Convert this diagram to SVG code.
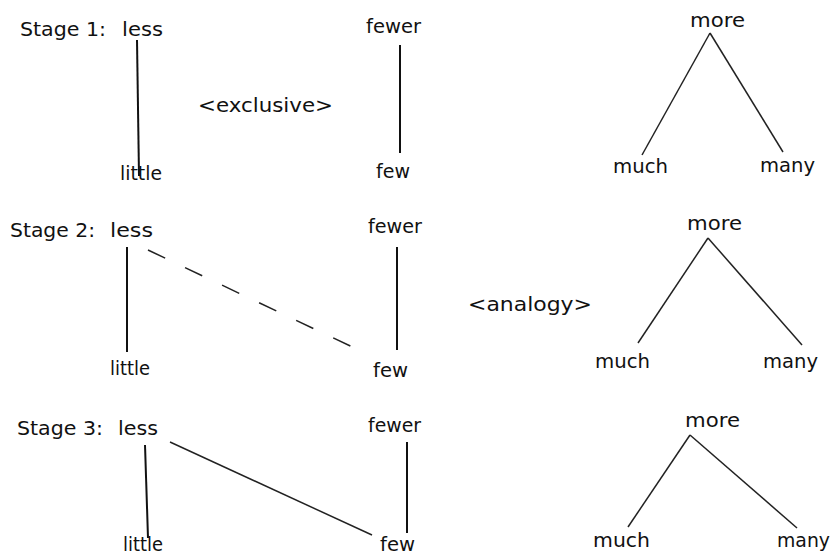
<svg xmlns="http://www.w3.org/2000/svg" width="833" height="556" viewBox="0 0 833 556">
  <style>
    text { font-family: "DejaVu Sans", "Liberation Sans", sans-serif; font-size: 19px; fill: #111; }
    .stem { stroke: #111; stroke-width: 2; fill: none; }
    .leg { stroke: #222; stroke-width: 1.5; fill: none; }
    .dash { stroke: #222; stroke-width: 1.5; fill: none; stroke-dasharray: 19 22; }
  </style>
  <rect width="833" height="556" fill="#fff"/>

  <!-- connectors -->
  <g id="connectors">
    <!-- stage 1 -->
    <line class="stem" x1="137" y1="40" x2="139" y2="176"/>
    <line class="stem" x1="400" y1="45" x2="400" y2="153"/>
    <line class="leg" x1="710" y1="33" x2="642" y2="155"/>
    <line class="leg" x1="710" y1="33" x2="783" y2="152"/>
    <!-- stage 2 -->
    <line class="stem" x1="127" y1="247" x2="127" y2="352"/>
    <line class="stem" x1="397" y1="247" x2="397" y2="350"/>
    <line class="dash" x1="148" y1="250" x2="365" y2="353"/>
    <line class="leg" x1="708" y1="238" x2="638" y2="343"/>
    <line class="leg" x1="708" y1="238" x2="802" y2="345"/>
    <!-- stage 3 -->
    <line class="stem" x1="145" y1="445" x2="148" y2="538"/>
    <line class="stem" x1="407" y1="442" x2="407" y2="533"/>
    <line class="leg" x1="170" y1="442" x2="372" y2="535"/>
    <line class="leg" x1="690" y1="435" x2="628" y2="527"/>
    <line class="leg" x1="690" y1="435" x2="797" y2="528"/>
  </g>

  <!-- stage 1 -->
  <g id="stage1-label"><text x="20" y="36" textLength="86" lengthAdjust="spacingAndGlyphs">Stage 1:</text></g>
  <g id="s1-less"><text x="122" y="36" textLength="41" lengthAdjust="spacingAndGlyphs">less</text></g>
  <g id="s1-little"><text x="120" y="180" textLength="42" lengthAdjust="spacingAndGlyphs">little</text></g>
  <g id="s1-fewer"><text x="366" y="33" textLength="55" lengthAdjust="spacingAndGlyphs">fewer</text></g>
  <g id="s1-few"><text x="376" y="178" textLength="34" lengthAdjust="spacingAndGlyphs">few</text></g>
  <g id="s1-more"><text x="690" y="27" textLength="55" lengthAdjust="spacingAndGlyphs">more</text></g>
  <g id="s1-much"><text x="613" y="173" textLength="55" lengthAdjust="spacingAndGlyphs">much</text></g>
  <g id="s1-many"><text x="760" y="172" textLength="55" lengthAdjust="spacingAndGlyphs">many</text></g>
  <g id="s1-exclusive"><text x="198" y="112" textLength="135" lengthAdjust="spacingAndGlyphs">&lt;exclusive&gt;</text></g>

  <!-- stage 2 -->
  <g id="stage2-label"><text x="10" y="237" textLength="85" lengthAdjust="spacingAndGlyphs">Stage 2:</text></g>
  <g id="s2-less"><text x="110" y="237" textLength="43" lengthAdjust="spacingAndGlyphs">less</text></g>
  <g id="s2-little"><text x="110" y="375" textLength="40" lengthAdjust="spacingAndGlyphs">little</text></g>
  <g id="s2-fewer"><text x="368" y="233" textLength="54" lengthAdjust="spacingAndGlyphs">fewer</text></g>
  <g id="s2-few"><text x="373" y="377" textLength="35" lengthAdjust="spacingAndGlyphs">few</text></g>
  <g id="s2-more"><text x="687" y="230" textLength="55" lengthAdjust="spacingAndGlyphs">more</text></g>
  <g id="s2-much"><text x="595" y="368" textLength="55" lengthAdjust="spacingAndGlyphs">much</text></g>
  <g id="s2-many"><text x="763" y="368" textLength="55" lengthAdjust="spacingAndGlyphs">many</text></g>
  <g id="s2-analogy"><text x="468" y="311" textLength="124" lengthAdjust="spacingAndGlyphs">&lt;analogy&gt;</text></g>

  <!-- stage 3 -->
  <g id="stage3-label"><text x="17" y="435" textLength="86" lengthAdjust="spacingAndGlyphs">Stage 3:</text></g>
  <g id="s3-less"><text x="118" y="435" textLength="40" lengthAdjust="spacingAndGlyphs">less</text></g>
  <g id="s3-little"><text x="123" y="551" textLength="40" lengthAdjust="spacingAndGlyphs">little</text></g>
  <g id="s3-fewer"><text x="368" y="432" textLength="53" lengthAdjust="spacingAndGlyphs">fewer</text></g>
  <g id="s3-few"><text x="380" y="551" textLength="35" lengthAdjust="spacingAndGlyphs">few</text></g>
  <g id="s3-more"><text x="685" y="427" textLength="55" lengthAdjust="spacingAndGlyphs">more</text></g>
  <g id="s3-much"><text x="593" y="547" textLength="57" lengthAdjust="spacingAndGlyphs">much</text></g>
  <g id="s3-many"><text x="777" y="547" textLength="53" lengthAdjust="spacingAndGlyphs">many</text></g>
</svg>
